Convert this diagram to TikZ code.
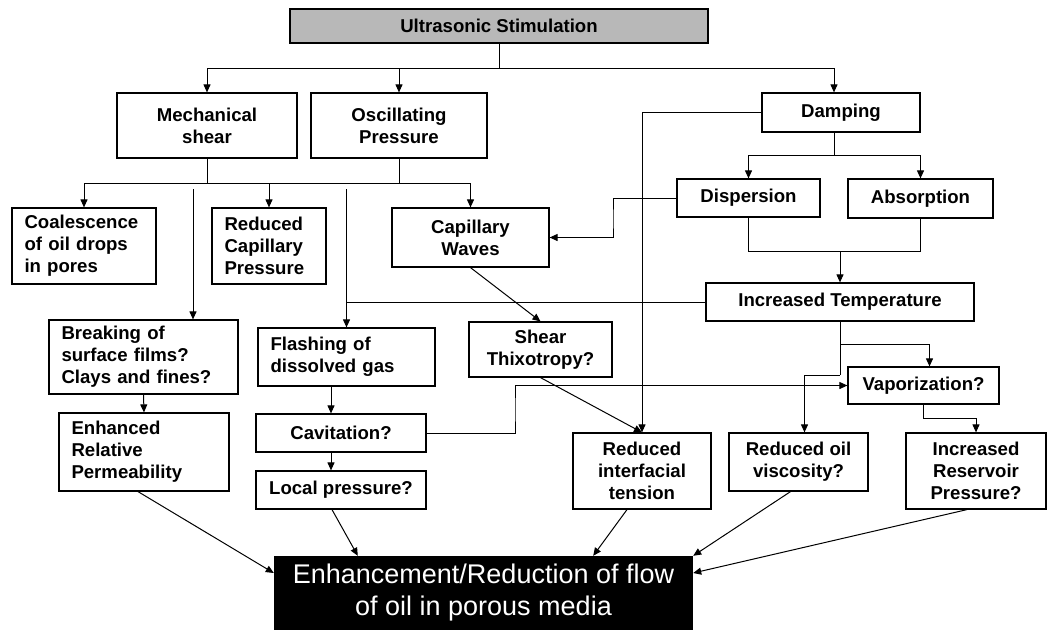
\documentclass[tikz,border=0pt]{standalone}
\usepackage{fontspec}
\setmainfont{Liberation Sans}
\usetikzlibrary{arrows.meta,calc}
\newcommand{\bxc}[6]{%
  \pgfmathsetmacro\bxw{#3-#2}\pgfmathsetmacro\bxh{#5-#4}%
  \pgfmathsetmacro\bxx{(#2+#3)/2}\pgfmathsetmacro\bxy{(#4+#5)/2}%
  \node[bx,align=center,minimum width=\bxw pt,minimum height=\bxh pt] (#1) at (\bxx,\bxy) {#6};}
\newcommand{\bxl}[6]{%
  \pgfmathsetmacro\bxw{#3-#2-25}\pgfmathsetmacro\bxh{#5-#4}%
  \pgfmathsetmacro\bxx{(#2+#3)/2}\pgfmathsetmacro\bxy{(#4+#5)/2}%
  \node[bx,align=left,text width=\bxw pt,inner xsep=12.5pt,minimum height=\bxh pt] (#1) at (\bxx,\bxy) {#6};}
\begin{document}
\begin{tikzpicture}[x=1pt,y=-1pt,
  bx/.style={draw,line width=1.2pt,inner sep=0pt,font=\fontsize{18.6}{22}\selectfont\bfseries},
  ln/.style={line width=1pt},
  arr/.style={ln,-{Triangle[length=8pt,width=7pt]}}]
\useasboundingbox (0,0) rectangle (1057,630);
% boxes
\node[bx,fill=black!28,minimum width=418pt,minimum height=34pt] (top) at (499,26) {Ultrasonic Stimulation};
\bxc{mech}{117}{297}{93}{158}{Mechanical\\shear}
\bxc{osc}{311}{487}{93}{158}{Oscillating\\Pressure}
\bxc{damp}{762}{920}{93}{132}{Damping}
\bxl{coal}{12}{156}{208}{284}{Coalescence\\of oil drops\\in pores}
\bxl{rcp}{212}{326}{208}{284}{Reduced\\Capillary\\Pressure}
\bxc{capw}{392}{549}{208}{267}{Capillary\\Waves}
\bxc{disp}{677}{820}{179}{217}{Dispersion}
\bxc{abs}{848}{993}{179}{218}{Absorption}
\bxc{inct}{706}{974}{283}{321}{Increased Temperature}
\bxl{brk}{49}{238}{320}{394}{Breaking of\\surface films?\\Clays and fines?}
\bxl{flash}{258}{435}{328}{386}{Flashing of\\dissolved gas}
\bxc{shear}{469}{612}{322}{377}{Shear\\Thixotropy?}
\bxc{vap}{848}{999}{367}{404}{Vaporization?}
\bxl{enh}{59}{229}{413}{491}{Enhanced\\Relative\\Permeability}
\bxc{cav}{256}{426}{414}{452}{Cavitation?}
\bxc{lp}{256}{426}{471}{509}{Local pressure?}
\bxc{rit}{573}{711}{433}{509}{Reduced\\interfacial\\tension}
\bxc{rov}{729}{868}{433}{491}{Reduced oil\\viscosity?}
\bxc{irp}{906}{1046}{433}{509}{Increased\\Reservoir\\Pressure?}
\node[fill=black,text=white,inner sep=0pt,font=\fontsize{27}{32}\selectfont,align=center,minimum width=419pt,minimum height=74pt] (fin) at (483.5,593) {Enhancement/Reduction of flow\\of oil in porous media};
% coordinates
\coordinate (b1) at (499,68);
\coordinate (b2) at (300,183);
\coordinate (m1) at (193,189);
\coordinate (o1) at (346.5,189);
\coordinate (b3) at (834,155);
\coordinate (b4) at (840,251);
\coordinate (c1) at (613,220);
\coordinate (b5) at (840,344);
\coordinate (b6) at (840,375);
\coordinate (c2) at (515,410);
% connectors
\draw[ln] (top.south) -- (b1);
\draw[ln] (mech.north |- b1) -- ([xshift=-7pt]damp.north |- b1);
\draw[arr] (mech.north |- b1) -- (mech.north);
\draw[arr] (osc.north |- b1) -- (osc.north);
\draw[arr] ([xshift=-7pt]damp.north |- b1) -- ([xshift=-7pt]damp.north);
\draw[ln] (mech.south) -- (mech.south |- b2);
\draw[ln] (osc.south) -- (osc.south |- b2);
\draw[ln] (coal.north |- b2) -- (capw.north |- b2);
\draw[arr] (coal.north |- b2) -- (coal.north);
\draw[arr] (rcp.north |- b2) -- (rcp.north);
\draw[arr] (capw.north |- b2) -- (capw.north);
\draw[arr] (m1) -- (m1 |- brk.north);
\draw[arr] (o1) -- (flash.north);
\draw[ln] (inct.west) -- (inct.west -| flash.north);
\draw[arr] (damp.west) -| (rit.north);
\draw[ln] ([xshift=-7pt]damp.south) -- (b3);
\draw[arr] (b3) -| (disp.north);
\draw[arr] (b3) -| (abs.north);
\draw[ln] (disp.south) |- (b4);
\draw[ln] (abs.south) |- (b4);
\draw[arr] (b4) -- (inct.north);
\draw[arr] (disp.west) -| (c1) |- (capw.east);
\draw[arr] (capw.south) -- (shear.north);
\draw[arr] (shear.south) -- (rit.north);
\draw[ln] (inct.south) -- (b6);
\draw[arr] (b5) -| ([xshift=6pt]vap.north);
\draw[arr] (b6) -| ([xshift=6pt]rov.north);
\draw[arr] (cav.east) -| (c2) |- (vap.west);
\draw[arr] (vap.south) -- ++(0,14) -| (irp.north);
\draw[arr] ([xshift=-10pt]cav.north |- flash.south) -- ([xshift=-10pt]cav.north);
\draw[arr] ([xshift=-10pt]cav.south) -- ([xshift=-10pt]lp.north);
\draw[arr] (brk.south) -- (enh.north);
\draw[arr] ([xshift=-6pt]enh.south) -- ([yshift=20pt]fin.west);
\draw[arr] ([xshift=-9pt]lp.south) -- ([xshift=84pt]fin.north west);
\draw[arr] ([xshift=-15pt]rit.south) -- ([xshift=-100pt]fin.north east);
\draw[arr] ([xshift=-8pt]rov.south) -- (fin.north east);
\draw[arr] ([xshift=-9pt]irp.south) -- ([yshift=20pt]fin.east);
\end{tikzpicture}
\end{document}
